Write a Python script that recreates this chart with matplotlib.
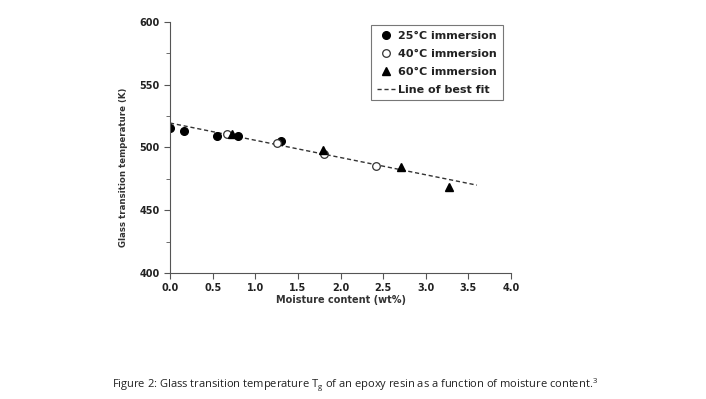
import matplotlib.pyplot as plt
from matplotlib.ticker import MultipleLocator

# 25 C immersion
x_25 = [0.0, 0.16, 0.55, 0.80, 1.30]
y_25 = [515.5, 513.5, 509.5, 509.3, 505.3]
# 40 C immersion
x_40 = [0.67, 1.26, 1.81, 2.42]
y_40 = [510.9, 503.5, 495.0, 485.6]
# 60 C immersion
x_60 = [0.73, 1.80, 2.71, 3.27]
y_60 = [510.9, 498.0, 484.3, 468.6]
# line of best fit
x_fit = [0.0, 3.6]
y_fit = [519.5, 470.0]

caption = "Figure 2: Glass transition temperature T$_\\mathregular{g}$ of an epoxy resin as a function of moisture content.$^\\mathregular{3}$"

plt.rcParams["font.family"] = ["DejaVu Sans"]

fig = plt.figure(figsize=(7.06, 3.99), dpi=100)
ax = fig.add_axes([0.2408, 0.3158, 0.483, 0.6291])

ax.plot(x_fit, y_fit, ls=(0, (3, 2)), color="#333333", lw=1.0, label="Line of best fit")
ax.plot(x_25, y_25, "o", color="black", ms=5.5, label="25°C immersion")
ax.plot(x_40, y_40, "o", mfc="white", mec="#333333", mew=0.9, ms=5.5, label="40°C immersion")
ax.plot(x_60, y_60, "^", color="black", ms=5.5, label="60°C immersion")

ax.set_xlim(0, 4.0)
ax.set_ylim(400, 600)
ax.xaxis.set_major_locator(MultipleLocator(0.5))
ax.yaxis.set_major_locator(MultipleLocator(50))
ax.yaxis.set_minor_locator(MultipleLocator(25))
ax.xaxis.set_major_formatter(plt.FuncFormatter(lambda v, p: f"{v:.1f}"))

for s in ["top", "right"]:
    ax.spines[s].set_visible(False)
for s in ["left", "bottom"]:
    ax.spines[s].set_color("#555555")
    ax.spines[s].set_linewidth(0.8)
ax.tick_params(which="both", direction="out", colors="#555555", labelcolor="#222222",
               labelsize=7)
ax.tick_params(which="major", length=4)
ax.tick_params(which="minor", length=3)
for lbl in ax.get_xticklabels() + ax.get_yticklabels():
    lbl.set_fontweight("bold")

ax.set_xlabel("Moisture content (wt%)", fontsize=7, fontweight="bold", color="#333333", labelpad=1)
ax.set_ylabel("Glass transition temperature (K)", fontsize=6.2, fontweight="bold", color="#333333")
ax.yaxis.set_label_coords(-0.123, 0.42)

handles, labels = ax.get_legend_handles_labels()
order = [1, 2, 3, 0]
leg = ax.legend([handles[i] for i in order], [labels[i] for i in order],
                loc="upper right", bbox_to_anchor=(0.985, 1.0), fontsize=8,
                frameon=True, fancybox=False, handlelength=1.7, handletextpad=0.25,
                labelspacing=0.72, borderpad=0.5, borderaxespad=0.3)
leg.get_frame().set_edgecolor("#555555")
leg.get_frame().set_linewidth(0.8)
for t in leg.get_texts():
    t.set_fontweight("bold")
    t.set_color("#222222")

fig.text(0.159, 0.028, caption, fontsize=8, color="#222222", family=["Open Sans", "DejaVu Sans"])

fig.savefig("out.png", dpi=100)
